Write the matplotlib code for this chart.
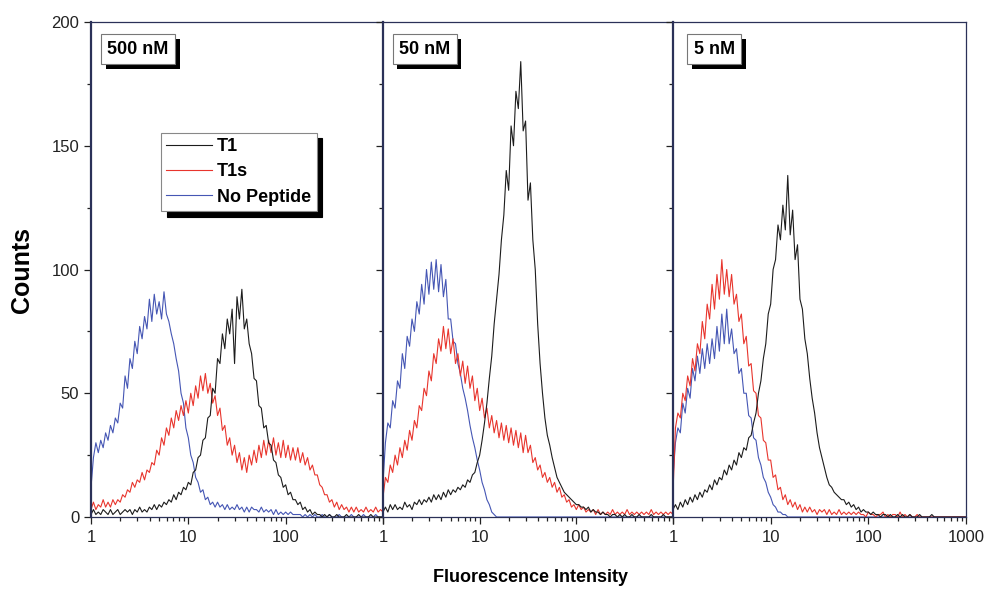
import numpy as np
import matplotlib
matplotlib.use("Agg")
import matplotlib.pyplot as plt
import matplotlib.patheffects as pe
from matplotlib.ticker import FixedLocator, LogLocator, NullFormatter, MultipleLocator

plt.rcParams['font.family'] = ['Liberation Sans', 'DejaVu Sans']

# channel axis: 121 log-spaced channels from 1 to 1000
channels = np.logspace(0, 3, 121)

concentrations = ["500 nM", "50 nM", "5 nM"]
series_names = ["T1", "T1s", "No Peptide"]

# 500 nM
t1_500 = [1, 3, 1, 2, 1, 3, 2, 1,
          3, 1, 2, 3, 1, 2, 3, 2,
          3, 1, 3, 2, 4, 2, 3, 2,
          4, 3, 5, 3, 5, 4, 6, 5,
          7, 6, 9, 7, 10, 9, 12, 11,
          14, 13, 18, 19, 24, 25, 31, 32,
          40, 41, 52, 50, 64, 62, 74, 68,
          80, 74, 84, 62, 89, 80, 92, 76,
          80, 70, 66, 56, 55, 45, 44, 36,
          37, 30, 29, 23, 22, 17, 16, 12,
          13, 9, 10, 7, 7, 5, 6, 3,
          4, 2, 3, 1, 2, 1, 1, 0,
          1, 0, 1, 0, 0, 1, 0, 0,
          0, 1, 0, 0, 0, 0, 1, 0,
          0, 0, 0, 1, 0, 0, 0, 0,
          0]
t1s_500 = [3, 6, 3, 5, 4, 7, 4, 6,
           4, 7, 5, 7, 6, 9, 8, 11,
           10, 14, 12, 15, 14, 18, 15, 19,
           18, 22, 21, 27, 25, 32, 29, 36,
           33, 40, 36, 43, 39, 45, 41, 47,
           42, 50, 45, 53, 48, 57, 51, 58,
           50, 54, 46, 49, 41, 44, 35, 37,
           29, 32, 25, 29, 22, 26, 19, 24,
           18, 25, 21, 27, 22, 29, 24, 31,
           25, 31, 26, 32, 25, 30, 24, 31,
           24, 29, 23, 28, 23, 28, 22, 26,
           21, 24, 19, 21, 17, 17, 13, 12,
           9, 9, 6, 7, 4, 6, 3, 5,
           3, 4, 2, 4, 2, 4, 2, 3,
           2, 4, 2, 3, 2, 4, 2, 3,
           2]
nopep_500 = [12, 24, 30, 26, 31, 28, 34, 31,
             37, 34, 40, 38, 46, 44, 57, 52,
             64, 60, 71, 66, 77, 72, 81, 76,
             88, 79, 90, 82, 87, 80, 91, 82,
             79, 74, 70, 64, 59, 50, 46, 36,
             32, 25, 22, 16, 14, 10, 11, 7,
             8, 5, 6, 4, 6, 4, 5, 3,
             5, 3, 4, 3, 5, 3, 4, 2,
             4, 2, 4, 3, 3, 2, 4, 2,
             3, 2, 3, 1, 3, 1, 2, 1,
             2, 1, 2, 1, 1, 1, 1, 0,
             1, 0, 1, 0, 1, 0, 0, 1,
             0, 0, 1, 0, 0, 0, 1, 0,
             0, 0, 0, 1, 0, 0, 0, 0,
             1, 0, 0, 0, 0, 1, 0, 0,
             0]

# 50 nM
t1_50 = [2, 4, 2, 5, 3, 5, 3, 4,
         3, 6, 4, 5, 3, 6, 5, 7,
         5, 7, 6, 8, 6, 9, 7, 9,
         7, 10, 8, 11, 9, 11, 10, 12,
         11, 13, 12, 15, 14, 17, 18, 22,
         25, 31, 38, 46, 56, 65, 78, 88,
         98, 112, 122, 140, 132, 158, 150, 172,
         165, 184, 156, 160, 128, 135, 112, 100,
         78, 62, 50, 40, 33, 29, 24, 20,
         16, 14, 12, 10, 9, 8, 7, 6,
         5, 5, 4, 4, 3, 4, 2, 3,
         2, 2, 1, 2, 1, 1, 0, 1,
         1, 0, 1, 0, 1, 0, 0, 1,
         0, 0, 1, 0, 0, 0, 0, 1,
         0, 0, 0, 0, 1, 0, 0, 0,
         0]
t1s_50 = [8, 16, 14, 21, 18, 25, 21, 28,
          24, 31, 27, 35, 31, 39, 36, 45,
          43, 52, 49, 59, 55, 66, 62, 72,
          67, 77, 68, 76, 66, 72, 62, 66,
          57, 63, 54, 61, 52, 57, 47, 52,
          43, 48, 40, 44, 36, 41, 34, 39,
          32, 38, 31, 37, 30, 36, 29, 35,
          28, 34, 26, 33, 26, 29, 22, 24,
          19, 21, 16, 18, 14, 16, 12, 14,
          10, 12, 8, 9, 6, 7, 4, 5,
          3, 5, 3, 4, 2, 3, 2, 3,
          1, 3, 1, 2, 1, 2, 1, 3,
          1, 2, 1, 2, 1, 3, 1, 2,
          1, 2, 1, 2, 1, 2, 1, 3,
          1, 2, 1, 2, 1, 2, 1, 2,
          1]
nopep_50 = [14, 30, 38, 36, 47, 44, 55, 52,
            66, 60, 73, 69, 80, 75, 87, 82,
            94, 86, 100, 90, 103, 92, 104, 91,
            102, 89, 96, 80, 80, 71, 70, 62,
            58, 52, 48, 43, 37, 32, 28, 23,
            19, 14, 11, 7, 5, 2, 1, 0,
            0, 0, 0, 0, 0, 0, 0, 0,
            0, 0, 0, 0, 0, 0, 0, 0,
            0, 0, 0, 0, 0, 0, 0, 0,
            0, 0, 0, 0, 0, 0, 0, 0,
            0, 0, 0, 0, 0, 0, 0, 0,
            0, 0, 0, 0, 0, 0, 0, 0,
            0, 0, 0, 0, 0, 0, 0, 0,
            0, 0, 0, 0, 0, 0, 0, 0,
            0, 0, 0, 0, 0, 0, 0, 0,
            0]

# 5 nM
t1_5 = [3, 5, 3, 6, 4, 7, 5, 8,
        6, 9, 7, 10, 8, 11, 10, 13,
        11, 15, 13, 16, 15, 19, 17, 21,
        19, 23, 21, 26, 24, 28, 27, 32,
        33, 38, 42, 50, 55, 64, 70, 82,
        86, 100, 104, 118, 112, 126, 116, 138,
        114, 124, 104, 110, 88, 84, 72, 66,
        56, 48, 42, 34, 28, 24, 20, 16,
        13, 12, 10, 9, 8, 7, 7, 5,
        6, 4, 5, 3, 4, 2, 3, 2,
        2, 1, 2, 1, 1, 0, 1, 1,
        0, 1, 0, 0, 1, 0, 1, 0,
        0, 1, 0, 0, 0, 1, 0, 0,
        0, 0, 1, 0, 0, 0, 0, 0,
        0, 0, 0, 0, 0, 0, 0, 0,
        0]
t1s_5 = [10, 36, 42, 40, 50, 47, 57, 53,
         64, 59, 70, 66, 79, 72, 86, 80,
         94, 84, 98, 88, 104, 90, 100, 89,
         98, 86, 90, 79, 82, 70, 73, 61,
         62, 51, 50, 41, 40, 31, 30, 23,
         23, 16, 17, 11, 12, 7, 9, 5,
         7, 4, 6, 3, 5, 2, 4, 2,
         4, 2, 3, 1, 3, 2, 3, 1,
         3, 1, 2, 1, 3, 1, 2, 1,
         2, 1, 2, 1, 2, 1, 1, 0,
         2, 1, 1, 0, 1, 1, 2, 0,
         1, 0, 1, 1, 0, 2, 0, 1,
         0, 1, 0, 0, 1, 0, 0, 0,
         0, 0, 0, 0, 0, 0, 0, 0,
         0, 0, 0, 0, 0, 0, 0, 0,
         0]
nopep_5 = [16, 30, 36, 34, 46, 42, 52, 48,
           60, 55, 65, 58, 68, 60, 70, 62,
           72, 64, 77, 67, 82, 70, 84, 70,
           76, 66, 68, 58, 60, 50, 50, 41,
           40, 32, 31, 24, 21, 16, 14, 10,
           8, 5, 4, 2, 2, 1, 1, 0,
           0, 0, 0, 0, 0, 0, 0, 0,
           0, 0, 0, 0, 0, 0, 0, 0,
           0, 0, 0, 0, 0, 0, 0, 0,
           0, 0, 0, 0, 0, 0, 0, 0,
           0, 0, 0, 0, 0, 0, 0, 0,
           0, 0, 0, 0, 0, 0, 0, 0,
           0, 0, 0, 0, 0, 0, 0, 0,
           0, 0, 0, 0, 0, 0, 0, 0,
           0, 0, 0, 0, 0, 0, 0, 0,
           0]

panels = [(t1_500, t1s_500, nopep_500),
          (t1_50, t1s_50, nopep_50),
          (t1_5, t1s_5, nopep_5)]

col_t1 = "#1c1c1c"
col_t1s = "#e8352d"
col_nopep = "#4556b4"
spine_col = "#2b3158"

fig = plt.figure(figsize=(9.88, 5.89), dpi=100)

lefts = [91, 383, 673]
widths = [292, 290, 293]
top_px, bot_px = 22, 517
W, H = 988, 589
box_x = [0.055, 0.055, 0.07]

box_shadow = [pe.withSimplePatchShadow(offset=(3.5, -3.5), shadow_rgbFace='black', alpha=1)]

for i, (t1, t1s, nopep) in enumerate(panels):
    ax = fig.add_axes([lefts[i] / W, 1 - bot_px / H, widths[i] / W, (bot_px - top_px) / H])
    l3, = ax.plot(channels, nopep, color=col_nopep, lw=0.8, label=series_names[2])
    l2, = ax.plot(channels, t1s, color=col_t1s, lw=0.8, label=series_names[1])
    l1, = ax.plot(channels, t1, color=col_t1, lw=0.8, label=series_names[0])
    ax.set_xscale('log')
    ax.set_xlim(1, 1000)
    ax.set_ylim(0, 200)

    ax.xaxis.set_major_locator(FixedLocator([1, 10, 100, 1000]))
    if i == 2:
        ax.set_xticklabels(['1', '10', '100', '1000'])
    else:
        ax.set_xticklabels(['1', '10', '100', ''])
    ax.xaxis.set_minor_locator(LogLocator(base=10, subs=np.arange(2, 10)))
    ax.xaxis.set_minor_formatter(NullFormatter())

    ax.yaxis.set_major_locator(MultipleLocator(50))
    ax.yaxis.set_minor_locator(MultipleLocator(25))
    if i > 0:
        ax.set_yticklabels([])

    ax.tick_params(which='both', direction='out', colors='#222222', labelsize=12, width=0.9)
    ax.tick_params(which='major', length=5)
    ax.tick_params(which='minor', length=3)
    ax.tick_params(axis='x', pad=4)
    for s in ax.spines.values():
        s.set_color(spine_col)
        s.set_linewidth(0.9)
    ax.spines['left'].set_linewidth(1.6)

    # concentration label in a box with a solid drop shadow
    t = ax.text(box_x[i], 0.962, concentrations[i], transform=ax.transAxes, ha='left', va='top',
                fontsize=13, fontweight='bold', color='black', zorder=6,
                bbox=dict(boxstyle='square,pad=0.35', facecolor='white', edgecolor='#777777', linewidth=0.8))
    t.get_bbox_patch().set_path_effects(box_shadow)

    if i == 0:
        leg = ax.legend(handles=[l1, l2, l3], loc='upper left', bbox_to_anchor=(0.24, 0.776),
                        borderaxespad=0, fancybox=False, frameon=True, edgecolor='#888888',
                        prop={'weight': 'bold', 'size': 13}, handlelength=2.5,
                        handletextpad=0.3, labelspacing=0.45, borderpad=0.3,
                        shadow={'ox': 4, 'oy': -4, 'facecolor': 'black', 'edgecolor': 'black', 'alpha': 1})
        leg.get_frame().set_linewidth(0.8)
        leg.get_frame().set_alpha(1)
        for h in leg.get_lines():
            h.set_linewidth(0.8)

fig.text(0.022, 0.542, "Counts", rotation=90, ha='center', va='center',
         fontsize=18, fontweight='bold')
fig.text(0.537, 0.019, "Fluorescence Intensity", ha='center', va='center',
         fontsize=13, fontweight='bold')

fig.savefig("out.png", dpi=100)
